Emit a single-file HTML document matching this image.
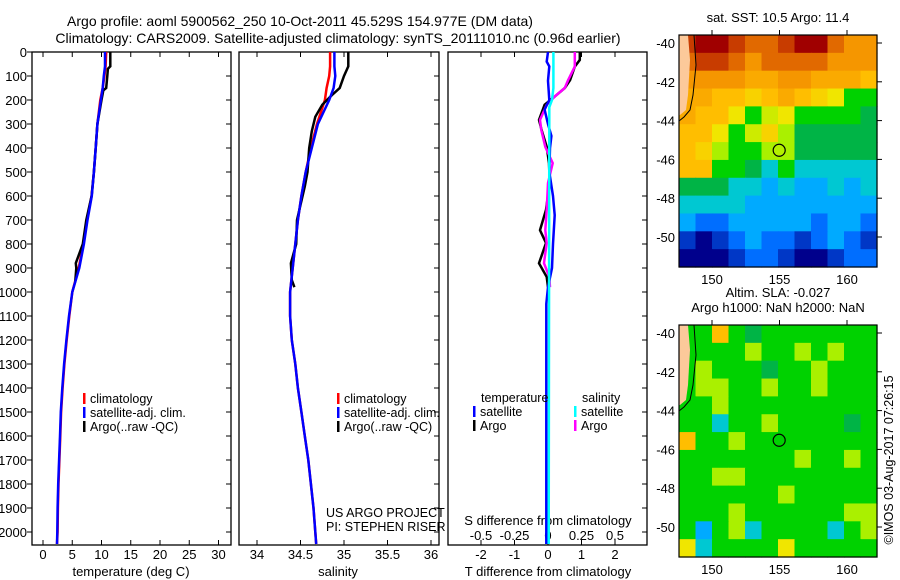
<!DOCTYPE html>
<html><head><meta charset="utf-8">
<style>
html,body{margin:0;padding:0;background:#fff;}
svg{display:block;font-family:"Liberation Sans",sans-serif;}
text{font-size:13px;fill:#000;}
</style></head>
<body>
<svg id="fig" width="900" height="580" viewBox="0 0 900 580" xmlns="http://www.w3.org/2000/svg">
<text x="300" y="26" text-anchor="middle" style="font-size:14px">Argo profile: aoml 5900562_250 10-Oct-2011 45.529S 154.977E (DM data)</text>
<text x="338" y="43" text-anchor="middle" style="font-size:14px">Climatology: CARS2009. Satellite-adjusted climatology: synTS_20111010.nc (0.96d earlier)</text>
<g id="maps"></g>
<g id="panels"></g>
</svg>
<script>
// ---- profile data ----
const depthT=[0,60,100,150,200,300,400,500,600,700,800,900,1000,1100,1200,1300,1400,1500,1600,1700,1800,1900,2000,2050];
const climT=[10.8,10.7,10.5,10.2,9.8,9.3,9.0,8.7,8.3,7.5,6.9,6.1,5.0,4.5,4.05,3.65,3.35,3.1,2.95,2.8,2.65,2.55,2.5,2.4];
const satT=[10.6,10.6,10.4,10.2,9.9,9.3,9.0,8.7,8.35,7.6,7.0,6.2,5.0,4.45,4.0,3.6,3.3,3.05,2.9,2.75,2.6,2.5,2.45,2.4];
const argoDepthT=[0,60,70,100,150,160,200,300,400,500,600,700,800,880,900,960];
const argoT=[11.5,11.5,11.1,11.0,10.8,10.3,10.0,9.3,9.0,8.7,8.3,7.4,6.8,5.6,5.7,5.5];
const climS=[34.84,34.84,34.83,34.80,34.78,34.69,34.62,34.56,34.51,34.47,34.44,34.41,34.38,34.38,34.40,34.44,34.47,34.51,34.55,34.59,34.62,34.65,34.67,34.68];
const satS=[34.89,34.89,34.90,34.88,34.83,34.70,34.63,34.56,34.51,34.47,34.44,34.41,34.38,34.38,34.40,34.44,34.47,34.51,34.55,34.59,34.62,34.65,34.67,34.68];
const argoDepthS=[0,60,100,150,180,220,270,330,400,500,560,700,800,880,950,980];
const argoS=[35.05,35.05,35.0,34.95,34.86,34.75,34.67,34.63,34.60,34.58,34.55,34.46,34.45,34.39,34.40,34.43];
const diffDepth=[0,33,61,117,150,186,220,283,325,395,463,546,658,742,796,880,937,980];
const argoTdiff=[0.95,0.95,0.8,0.66,0.5,0.2,-0.1,-0.27,-0.19,-0.04,0.03,0.05,-0.06,-0.24,-0.06,-0.27,-0.04,0.0];
const argoSdiff=[0.2,0.2,0.2,0.15,0.125,0.05,-0.01,-0.06,-0.05,-0.02,0.035,0.0,-0.01,-0.02,-0.01,-0.03,0.01,0.015];
const satTdiffDepth=[0,40,60,120,200,240,300,350,400,500,600,680,800,900,980,1050,2050];
const satTdiff=[0,-0.04,0.04,0,0.04,-0.1,0,0.1,0.06,0.04,0.15,0.2,0.15,0.12,0,-0.05,-0.05];
const satSdiffDepth=[0,150,200,230,300,2050];
const satSdiff=[0.04,0.04,0.03,0.01,0.01,0.005];
const depthTicks=[0,100,200,300,400,500,600,700,800,900,1000,1100,1200,1300,1400,1500,1600,1700,1800,1900,2000];
const tempTicks=[0,5,10,15,20,25,30];
const salTicks=["34","34.5","35","35.5","36"];
const tdTicks=["-2","-1","0","1","2"];
const sdTicks=["-0.5","-0.25","0","0.25","0.5"];
// ---- map data (value index 0=dark blue .. 10=dark red) ----
const sstGrid=[
[9,10,10,9,8,8,9,10,10,8,7,7],
[8,9,9,8,7,8,8,8,8,7,7,7],
[7,7,7,7,6.5,6.5,7,7,6.5,6.5,6.5,6],
[6.5,6.5,6,6,5.5,6,6.5,6,5.5,5,3,3],
[6.5,6,6,5,3,4.5,5,3,3,3,3,2.5],
[6,6,5,3,4.5,5.5,4,2.5,2.5,2.5,2.5,2.5],
[6,5.5,4,3,3,4,4,2.5,2.5,2.5,2.5,2.5],
[6,6,3,3,2.5,2,3,2,2,2,2,2],
[2.5,2.5,2.5,2,2,1.5,2,1.5,1.5,2,1.5,2],
[2,2,2,2,1.5,1.5,1.5,1.5,1.5,1.5,1.5,1.5],
[1.5,1,1,1.5,1.5,1.5,1.5,1.5,1,1.5,1.5,1],
[0.5,0,0.5,1,1.5,1,1,0.5,1,1.5,1,0.5],
[0,0,0,0.5,1,1,0.5,0,0,0.5,1,1]];
const slaGrid=[
[3,3,6,3,2.5,3,3,3,3,3,3,3],
[3,3,3,3,4,3,3,4,3,4,3,3],
[3,4,3,3,3,2.5,3,3,4,3,3,3],
[3,4,4,3,3,4,3,3,4,3,3,3],
[3,3,4,3,3,3,3,3,3,3,3,3],
[3,3,2,3,3,4,3,3,3,3,2.5,3],
[6,3,3,4,3,3,3,3,3,3,3,3],
[3,3,3,3,3,3,3,4,3,3,4,3],
[3,3,4,4,3,3,3,3,3,3,3,3],
[3,3,3,3,3,3,4,3,3,3,3,3],
[3,3,3,4,3,3,3,3,3,3,4,4],
[3,1.5,3,4,2,3,3,3,3,2,3,4],
[5,2,3,3,3,3,5,3,3,3,3,3]];
const lonTicks=[150,155,160];
const latTicks=[-40,-42,-44,-46,-48,-50];
const argoLon=154.977, argoLat=-45.529;

const NS="http://www.w3.org/2000/svg";
function mk(tag,attrs,parent,txt){const e=document.createElementNS(NS,tag);for(const k in attrs)e.setAttribute(k,attrs[k]);if(txt!==undefined)e.textContent=txt;parent.appendChild(e);return e;}
const panels=document.getElementById('panels');
const Y0=52, YS=0.24, YB=545;
const yD=d=>Y0+d*YS;
const xTemp=v=>43+v*5.85;
const xSal=v=>257+(v-34)*87;
const xTd=v=>548+v*33.5;
const P=[[32,231],[239,439],[448,647]];

function frame(i,name){
  const [l,r]=P[i];
  const g=mk('g',{},panels);
  
  
  mk('rect',{x:l,y:Y0,width:r-l,height:YB-Y0,fill:'none',stroke:'#000','stroke-width':1.3},g);
  depthTicks.forEach(d=>{
    mk('line',{x1:r-5,x2:r,y1:yD(d),y2:yD(d),stroke:'#000'},g);
    if(i===0) mk('line',{x1:l-5,x2:l,y1:yD(d),y2:yD(d),stroke:'#000'},g);
  });
  return g;
}
function xticks(g,pos){pos.forEach(x=>{mk('line',{x1:x,x2:x,y1:Y0,y2:Y0+5,stroke:'#000'},g);mk('line',{x1:x,x2:x,y1:YB-5,y2:YB,stroke:'#000'},g);});}
function line(g,xs,ds,fx,col,name){
  const pts=xs.map((v,k)=>fx(v).toFixed(1)+','+yD(ds[k]).toFixed(1)).join(' ');
  const p=mk('polyline',{points:pts,fill:'none',stroke:col,'stroke-width':2.5,'stroke-linejoin':'miter'},g);
  
  
}
function legend(g,x,y,col,label,name){
  const e=mk('g',{},g);
  
  
  mk('rect',{x:x,y:y-10,width:2.5,height:11,fill:col},e);
  mk('text',{x:x+7,y:y,style:'font-size:12.5px'},e,label);
}

// panel 1 temperature
let g1=frame(0,'temperature-panel');
depthTicks.forEach(d=>{const t=mk('text',{x:27,y:yD(d)+5,'text-anchor':'end'},g1,String(d));});
xticks(g1,tempTicks.map(xTemp));
tempTicks.forEach(v=>mk('text',{x:xTemp(v),y:559,'text-anchor':'middle'},g1,String(v)));
mk('text',{x:131,y:576,'text-anchor':'middle',},g1,'temperature (deg C)');
line(g1,climT,depthT,xTemp,'#f00','climatology-temperature-line');
line(g1,argoT,argoDepthT,xTemp,'#000','argo-temperature-line');
line(g1,satT,depthT,xTemp,'#00f','satellite-temperature-line');
legend(g1,83,403,'#f00','climatology','legend-climatology');
legend(g1,83,417,'#00f','satellite-adj. clim.','legend-satellite');
legend(g1,83,431,'#000','Argo(..raw -QC)','legend-argo');

// panel 2 salinity
let g2=frame(1,'salinity-panel');
xticks(g2,salTicks.map(s=>xSal(+s)));
salTicks.forEach(s=>mk('text',{x:xSal(+s),y:559,'text-anchor':'middle'},g2,s));
mk('text',{x:338,y:576,'text-anchor':'middle',},g2,'salinity');
line(g2,climS,depthT,xSal,'#f00','climatology-salinity-line');
line(g2,argoS,argoDepthS,xSal,'#000','argo-salinity-line');
line(g2,satS,depthT,xSal,'#00f','satellite-salinity-line');
legend(g2,337,403,'#f00','climatology','legend-climatology-2');
legend(g2,337,417,'#00f','satellite-adj. clim.','legend-satellite-2');
legend(g2,337,431,'#000','Argo(..raw -QC)','legend-argo-2');
mk('text',{x:326,y:517,style:'font-size:12.5px',},g2,'US ARGO PROJECT');
mk('text',{x:326,y:531,style:'font-size:12.5px',},g2,'PI: STEPHEN RISER');

// panel 3 differences
const xSdp=v=>548+v*4*33.5;
let g3=frame(2,'difference-panel');
xticks(g3,tdTicks.map(s=>xTd(+s)));
tdTicks.forEach(s=>mk('text',{x:xTd(+s),y:559,'text-anchor':'middle'},g3,s));
sdTicks.forEach(s=>mk('text',{x:xSdp(+s),y:540,'text-anchor':'middle'},g3,s));
mk('text',{x:548,y:525,'text-anchor':'middle',},g3,'S difference from climatology');
mk('text',{x:548,y:576,'text-anchor':'middle',},g3,'T difference from climatology');
line(g3,argoTdiff,diffDepth,xTd,'#000','argo-t-diff-line');
line(g3,argoSdiff,diffDepth,xSdp,'#f0f','argo-s-diff-line');
line(g3,satTdiff,satTdiffDepth,xTd,'#00f','satellite-t-diff-line');
line(g3,satSdiff,satSdiffDepth,xSdp,'#0ff','satellite-s-diff-line');
mk('text',{x:481,y:402,style:'font-size:12.5px'},g3,'temperature');
mk('text',{x:582,y:402,style:'font-size:12.5px'},g3,'salinity');
legend(g3,473,416,'#00f','satellite','legend-t-satellite');
legend(g3,473,430,'#000','Argo','legend-t-argo');
legend(g3,574,416,'#0ff','satellite','legend-s-satellite');
legend(g3,574,430,'#f0f','Argo','legend-s-argo');

// ---- maps ----
const maps=document.getElementById('maps');
const stops=[[0,[0,0,140]],[1,[0,110,255]],[1.5,[0,170,255]],[2,[0,200,210]],[2.5,[0,180,70]],[3,[0,210,0]],[4,[170,240,0]],[5,[240,230,0]],[6,[255,190,0]],[7,[245,150,0]],[8,[225,105,0]],[9,[200,60,0]],[10,[160,0,0]]];
function col(v){for(let k=1;k<stops.length;k++){if(v<=stops[k][0]){const a=stops[k-1],b=stops[k];const t=(v-a[0])/(b[0]-a[0]);const c=a[1].map((q,j)=>Math.round(q+(b[1][j]-q)*t));return 'rgb('+c.join(',')+')';}}return 'rgb(160,0,0)';}
const ML=679,MR=877;
const xLon=lon=>712+(lon-150)*13.5;
function drawMap(top,grid,name,filled,titles){
  const g=mk('g',{},maps);
  
  
  const H=232,W=MR-ML;
  const yLat=lat=>top+8+(-40-lat)*19.4;
  const rows=grid.length,cols=grid[0].length;
  grid.forEach((row,r)=>row.forEach((v,c)=>{
    const cell=mk('rect',{x:ML+c*W/cols,y:top+r*H/rows,width:W/cols+0.6,height:H/rows+0.6,fill:col(v)},g);
    
    
  }));
  mk('path',{d:`M${ML} ${top} L688 ${top} L690 ${top+25} L688 ${top+60} L686 ${top+75} L680 ${top+80} L${ML} ${top+80} Z`,fill:'#fcc99a'},g);
  mk('path',{d:`M694 ${top} L696 ${top+30} L693 ${top+60} L690 ${top+75} L684 ${top+82} L${ML} ${top+86}`,fill:'none',stroke:'#000','stroke-width':1},g);
  mk('rect',{x:ML,y:top,width:W,height:H,fill:'none',stroke:'#000','stroke-width':1.2},g);
  lonTicks.forEach(l=>{const x=xLon(l);mk('line',{x1:x,x2:x,y1:top-5,y2:top,stroke:'#000'},g);mk('text',{x:x,y:top+H+17,'text-anchor':'middle'},g,String(l));});
  latTicks.forEach(l=>{const y=yLat(l);mk('line',{x1:MR,x2:MR+5,y1:y,y2:y,stroke:'#000'},g);mk('text',{x:ML-4,y:y+5,'text-anchor':'end'},g,String(l));});
  const c=mk('circle',{cx:xLon(argoLon),cy:yLat(argoLat),r:6,fill:filled?'#b4f000':'none',stroke:'#000','stroke-width':1.2},g);
  
  
  titles.forEach((t,k)=>mk('text',{x:778,y:top-13-(titles.length-1-k)*15,'text-anchor':'middle'},g,t));
}
drawMap(35,sstGrid,'sst-map',true,['sat. SST: 10.5 Argo: 11.4']);
drawMap(325,slaGrid,'sla-map',false,['Altim. SLA: -0.027','Argo h1000: NaN h2000: NaN']);
const cr=mk('text',{x:0,y:0,transform:'translate(893,460) rotate(-90)','text-anchor':'middle',style:'font-size:12.5px'},maps,'©IMOS 03-Aug-2017 07:26:15');


</script>
</body></html>
